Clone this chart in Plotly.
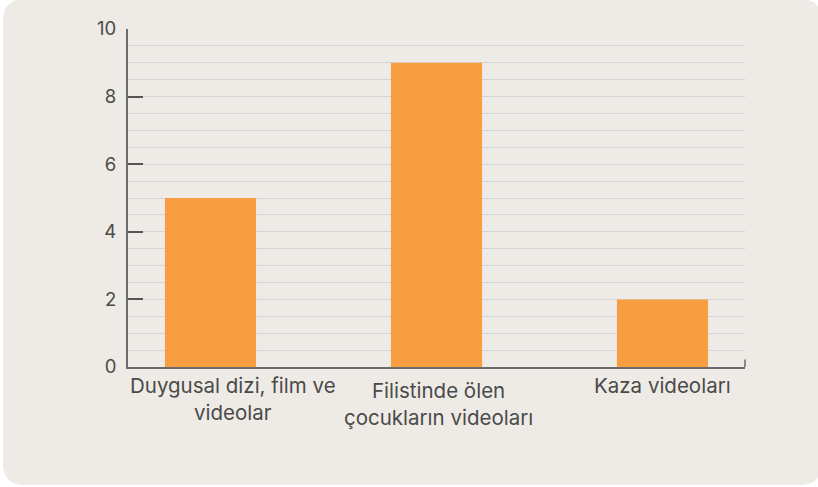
import plotly.graph_objects as go

categories = ["Duygusal dizi, film ve<br>videolar", "Filistinde ölen<br>çocukların videoları", "Kaza videoları"]
values = [5, 9, 2]
y_ticks = [0, 2, 4, 6, 8, 10]

# label placement tweaks (pixels)
label_dx = [23, 2, 0]
label_dy = [0, -5, 0]

W, H = 818, 487
ML, MR, MT, MB = 128, 73, 29, 120
PW, PH = W - ML - MR, H - MT - MB

def px_to_paper(x, y):
    return (x - ML) / PW, (H - MB - y) / PH

# rounded card path in paper coords
card_l, card_t, card_r, card_b, rad = 3, -1, 822, 485, 22
def P(x, y):
    a, b = px_to_paper(x, y)
    return f"{a:.5f},{b:.5f}"
path = (
    f"M {P(card_l + rad, card_t)} L {P(card_r - rad, card_t)} "
    f"Q {P(card_r, card_t)} {P(card_r, card_t + rad)} "
    f"L {P(card_r, card_b - rad)} Q {P(card_r, card_b)} {P(card_r - rad, card_b)} "
    f"L {P(card_l + rad, card_b)} Q {P(card_l, card_b)} {P(card_l, card_b - rad)} "
    f"L {P(card_l, card_t + rad)} Q {P(card_l, card_t)} {P(card_l + rad, card_t)} Z"
)

fig = go.Figure(
    go.Bar(x=categories, y=values, marker=dict(color="#F89E40", line=dict(width=0)),
           hoverinfo="x+y")
)

annotations = [
    dict(x=c, y=0, xref="x", yref="y", text=c, showarrow=False,
         xanchor="center", yanchor="top", align="center",
         xshift=dx, yshift=-4 + dy,
         font=dict(family="Inter, Roboto, sans-serif", size=20.5, color="#4A4A4A"))
    for c, dx, dy in zip(categories, label_dx, label_dy)
]

fig.update_layout(
    width=W, height=H,
    margin=dict(l=ML, r=MR, t=MT, b=MB),
    paper_bgcolor="#FFFFFF",
    plot_bgcolor="rgba(0,0,0,0)",
    bargap=0.597,
    showlegend=False,
    font=dict(family="Inter, Roboto, sans-serif", size=20, color="#4A4A4A"),
    annotations=annotations,
    shapes=[
        dict(type="path", path=path, xref="paper", yref="paper", layer="below",
             fillcolor="#EEEAE5", line=dict(width=0)),
        dict(type="line", xref="paper", yref="paper", x0=1, x1=1, y0=0, y1=0.022,
             line=dict(color="#6B6B6B", width=1.5)),
    ],
)

fig.update_xaxes(
    range=[-0.365, len(categories) - 1 + 0.365],
    showline=True, linecolor="#6B6B6B", linewidth=2,
    showgrid=False, ticks="", showticklabels=False,
    fixedrange=True,
)

fig.update_yaxes(
    range=[0, 10], tickvals=y_ticks, ticktext=[str(v) for v in y_ticks],
    showline=True, linecolor="#6B6B6B", linewidth=2,
    ticks="inside", ticklen=15, tickwidth=1.5, tickcolor="#555555",
    showgrid=True, gridcolor="#D4D4D4", gridwidth=1,
    minor=dict(dtick=0.5, showgrid=True, gridcolor="#D4D4D4", gridwidth=1, ticks=""),
    tickfont=dict(size=18.5, color="#4A4A4A"),
    ticklabelstandoff=6,
    zeroline=False, fixedrange=True,
)

fig.write_html("out.html", config={"displayModeBar": False},
               post_script="document.body.style.margin='0';document.body.style.overflow='hidden';")
